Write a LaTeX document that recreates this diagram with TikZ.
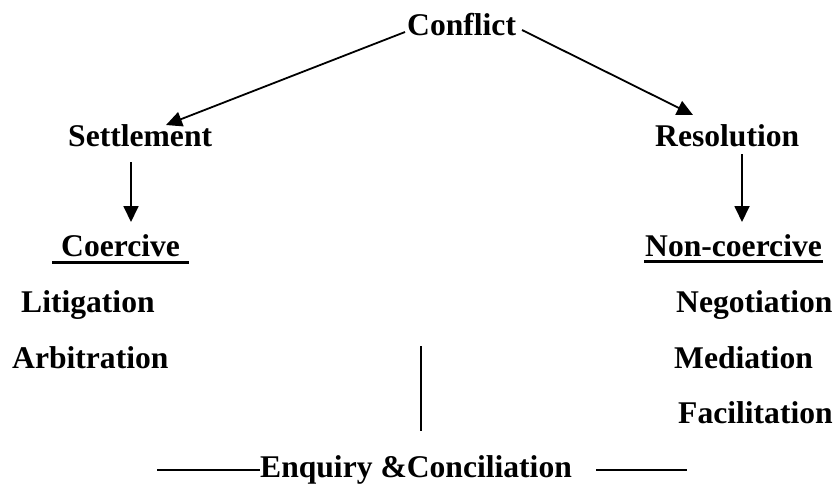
\documentclass[tikz,border=0pt]{standalone}
\usepackage{fontspec}
\setmainfont{Liberation Serif}
\usetikzlibrary{arrows.meta,calc}
\begin{document}
\begin{tikzpicture}[x=1pt,y=-1pt,
  lbl/.style={font=\fontsize{31.6}{36}\selectfont\bfseries, inner sep=0pt, anchor=base west},
  arr/.style={line width=1.8pt, -{Triangle[length=16pt,width=15pt]}},
  ln/.style={line width=1.8pt},
  ul/.style={line width=3pt}]
\useasboundingbox (0,0) rectangle (835,483);
\node[lbl] (conf) at (407,35) {Conflict};
\node[lbl] (set) at (68,146) {Settlement};
\node[lbl] (res) at (655,146) {Resolution};
\node[lbl] (co) at (61,256) {Coercive};
\node[lbl] (nc) at (645,256) {Non-coercive};
\node[lbl] (lit) at (21,312) {Litigation};
\node[lbl] (arb) at (12,368) {Arbitration};
\node[lbl] (neg) at (676,312) {Negotiation};
\node[lbl] (med) at (674,368) {Mediation};
\node[lbl] (fac) at (678,423) {Facilitation};
\node[lbl] (enq) at (260,477) {Enquiry \&Conciliation};
\coordinate (lstart) at (405,32);
\coordinate (ltip) at (166,125);
\coordinate (rstart) at (522,30);
\coordinate (rtip) at (693,115);
\draw[arr] (lstart) -- (ltip);
\draw[arr] (rstart) -- (rtip);
\coordinate (sd) at (131,162);
\coordinate (sdt) at (131,222);
\coordinate (rd) at (742,154);
\coordinate (rdt) at (742,222);
\draw[arr] (sd) -- (sdt);
\draw[arr] (rd) -- (rdt);
\draw[ul] ($(co.base west)+(-9,6)$) -- ($(co.base east)+(9,6)$);
\draw[ul] ($(nc.base west)+(-1,5)$) -- ($(nc.base east)+(1,5)$);
\coordinate (vt) at (421,346);
\coordinate (vb) at (421,431);
\draw[ln] (vt) -- (vb);
\coordinate (hl) at (157,470);
\draw[ln] (hl) -- ($(enq.base west)+(0,-7)$);
\coordinate (hr1) at (596,470);
\coordinate (hr2) at (687,470);
\draw[ln] (hr1) -- (hr2);
\end{tikzpicture}
\end{document}
